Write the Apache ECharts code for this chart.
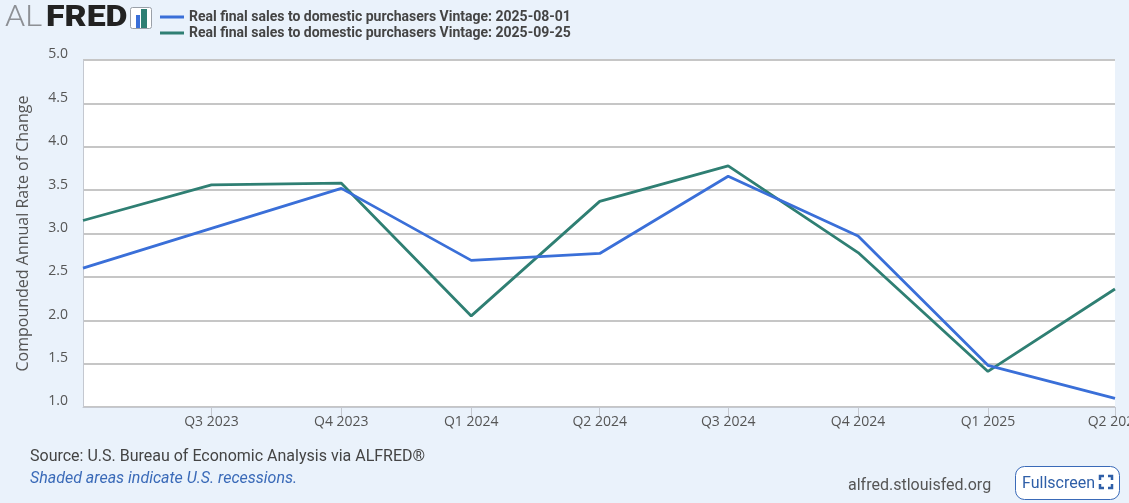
<!DOCTYPE html>
<html>
<head>
<meta charset="utf-8">
<title>ALFRED</title>
<script src="https://cdn.jsdelivr.net/npm/echarts@6/dist/echarts.min.js"></script>
<style>
  html, body { margin: 0; padding: 0; background: #eaf2fb; }
  #chart { width: 1129px; height: 503px; }
</style>
</head>
<body>
<div id="chart"></div>
<script>
var dates = ['2023-04-01', '2023-07-01', '2023-10-01', '2024-01-01', '2024-04-01', '2024-07-01', '2024-10-01', '2025-01-01', '2025-04-01']
var tickLabels = ['Q2 2023', 'Q3 2023', 'Q4 2023', 'Q1 2024', 'Q2 2024', 'Q3 2024', 'Q4 2024', 'Q1 2025', 'Q2 2025']
var vintageAug = [2.60, 3.06, 3.52, 2.69, 2.77, 3.66, 2.97, 1.48, 1.10]
var vintageSep = [3.15, 3.56, 3.58, 2.05, 3.37, 3.78, 2.78, 1.41, 2.36]
var seriesNames = [
  'Real final sales to domestic purchasers Vintage: 2025-08-01',
  'Real final sales to domestic purchasers Vintage: 2025-09-25'
]

function toTime(d) {
  return Date.parse(d)
}

function pairs(values) {
  return values.map(function (v, i) { return [toTime(dates[i]), v] })
}

// the first date sits on the y axis and has no tick
var tickTimes = dates.slice(1).map(toTime)

var chart = echarts.init(document.getElementById('chart'))
chart.setOption({
  animation: false,
  backgroundColor: '#eaf2fb',
  textStyle: { fontFamily: 'Roboto' },
  color: ['#3a6fd8', '#2f7f73'],
  legend: {
    orient: 'vertical',
    left: 155,
    top: 5,
    itemGap: 2,
    itemWidth: 24,
    itemHeight: 3,
    icon: 'rect',
    selectedMode: false,
    textStyle: { fontSize: 14, fontWeight: 'bold', color: '#444', fontFamily: 'Roboto' },
    data: seriesNames
  },
  grid: {
    left: 83,
    right: 14,
    top: 60,
    bottom: 96,
    outerBoundsMode: 'none',
    show: true,
    backgroundColor: '#fff',
    borderWidth: 0
  },
  xAxis: {
    type: 'value',
    min: toTime(dates[0]),
    max: toTime(dates[dates.length - 1]),
    axisLine: { show: true, onZero: false, lineStyle: { color: '#c4c8d0', width: 1 } },
    axisTick: { show: true, length: 10, lineStyle: { color: '#c4c8d0' }, customValues: tickTimes },
    splitLine: { show: false },
    axisLabel: {
      show: true,
      customValues: tickTimes,
      hideOverlap: false,
      margin: 8,
      fontSize: 14,
      color: '#555',
      fontFamily: 'Open Sans',
      formatter: function (val) {
        return tickLabels[tickTimes.indexOf(val) + 1]
      }
    }
  },
  yAxis: {
    type: 'value',
    min: 1,
    max: 5,
    interval: 0.5,
    name: 'Compounded Annual Rate of Change',
    nameLocation: 'middle',
    nameGap: 52,
    nameTextStyle: { fontSize: 16, color: '#555', fontFamily: 'Open Sans' },
    axisLine: { show: true, lineStyle: { color: '#c4c8d0', width: 1 } },
    axisTick: { show: false },
    splitLine: { show: true, lineStyle: { color: '#c6c6c6', width: 2 } },
    axisLabel: {
      margin: 15,
      fontSize: 14,
      color: '#555',
      fontFamily: 'Open Sans',
      verticalAlign: 'bottom',
      lineHeight: 11,
      formatter: function (v) { return v.toFixed(1) }
    }
  },
  graphic: [
    { type: 'text', x: 5, y: 3, scaleX: 1.08, style: { text: 'AL', fontSize: 30, fontFamily: 'Roboto', fontWeight: 300, fill: '#8d9095' } },
    { type: 'text', x: 46, y: 3, scaleX: 1.13, style: { text: 'FRED', fontSize: 30, fontFamily: 'Roboto', fontWeight: 900, fill: '#222' } },
    { type: 'rect', shape: { x: 130.5, y: 7.5, width: 21, height: 21, r: 2 }, style: { fill: '#fff', stroke: '#9aa0a8', lineWidth: 1 } },
    { type: 'rect', shape: { x: 136, y: 15, width: 4, height: 13 }, style: { fill: '#3a6fd8' } },
    { type: 'rect', shape: { x: 141, y: 9, width: 6, height: 19 }, style: { fill: '#2f7f73' } },
    { type: 'text', left: 30, top: 449, style: { text: 'Source: U.S. Bureau of Economic Analysis via ALFRED®', fontSize: 16, fontFamily: 'Roboto', fill: '#444' } },
    { type: 'text', left: 30, top: 471, style: { text: 'Shaded areas indicate U.S. recessions.', fontSize: 16, fontStyle: 'italic', fontFamily: 'Roboto', fill: '#3a6ab8' } },
    { type: 'text', left: 848, top: 478, style: { text: 'alfred.stlouisfed.org', fontSize: 16, fontFamily: 'Roboto', fill: '#555' } },
    { type: 'rect', shape: { x: 1015.5, y: 466.5, width: 104, height: 33, r: 9 }, style: { fill: '#fff', stroke: '#3a6ab8', lineWidth: 1 } },
    { type: 'text', left: 1022, top: 476, style: { text: 'Fullscreen', fontSize: 16, fontFamily: 'Roboto', fill: '#2f5fa8' } },
    { type: 'polyline', shape: { points: [[1100, 480], [1100, 476], [1104, 476]] }, style: { fill: 'none', stroke: '#2f5fa8', lineWidth: 2.5 } },
    { type: 'polyline', shape: { points: [[1108, 476], [1112, 476], [1112, 480]] }, style: { fill: 'none', stroke: '#2f5fa8', lineWidth: 2.5 } },
    { type: 'polyline', shape: { points: [[1100, 484], [1100, 488], [1104, 488]] }, style: { fill: 'none', stroke: '#2f5fa8', lineWidth: 2.5 } },
    { type: 'polyline', shape: { points: [[1108, 488], [1112, 488], [1112, 484]] }, style: { fill: 'none', stroke: '#2f5fa8', lineWidth: 2.5 } }
  ],
  series: [
    { name: seriesNames[0], type: 'line', symbol: 'none', lineStyle: { width: 2.8, color: '#3a6fd8' }, z: 3, data: pairs(vintageAug) },
    { name: seriesNames[1], type: 'line', symbol: 'none', lineStyle: { width: 2.8, color: '#2f7f73' }, z: 2, data: pairs(vintageSep) }
  ]
})
</script>
</body>
</html>
